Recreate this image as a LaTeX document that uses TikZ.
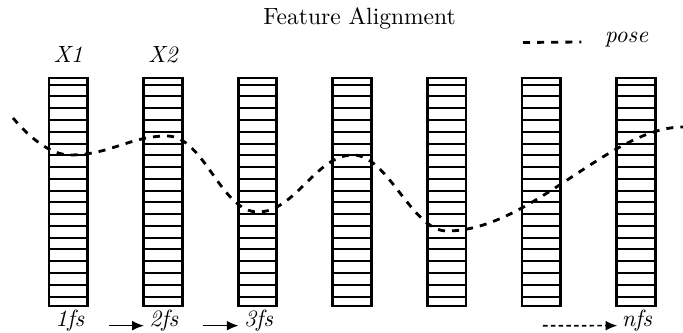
\documentclass[tikz,border=0pt]{standalone}
\usetikzlibrary{arrows.meta,calc}
\begin{document}
\begin{tikzpicture}[x=0.4255pt,y=-0.4255pt,
  featcol/.style={draw,line width=1.2pt,minimum width=16.4pt,minimum height=97pt,inner sep=0pt,outer sep=0pt},
  cell/.style={line width=0.85pt},
  lbl/.style={inner sep=0pt,anchor=base,font=\itshape},
  posecurve/.style={dashed,line width=1.2pt},
  flow/.style={line width=0.7pt,-{Latex[length=5pt,width=4.2pt]}},
]
\useasboundingbox (0,0) rectangle (683,333);

% feature columns, each split into cells
\foreach \i in {1,...,7} {
  \node[featcol] (c\i) at ({68.25+94.6*(\i-1)},192) {};
  \foreach \k in {0,...,18}
    \draw[cell] ($(c\i.north west)+(0,{6.7+11.77*\k})$) -- ($(c\i.north east)+(0,{6.7+11.77*\k})$);
}

% title and legend
\node[inner sep=0pt,anchor=base] (title) at (359.5,25) {Feature Alignment};
\node[lbl] (posetxt) at (626.5,43) {pose};
\coordinate (legstart) at (523,42.5);
\draw[posecurve] (legstart) -- ($(posetxt.base west)+(-23,-1)$);

% column labels
\node[lbl] (x1) at ($(c1.north)+(0,-15.7)$) {X1};
\node[lbl] (x2) at ($(c2.north)+(0,-15.7)$) {X2};

% frame labels
\node[lbl] (f1) at ($(c1.south)+(1.5,20.7)$) {1fs};
\node[lbl] (f2) at ($(c2.south)+(1,20.7)$) {2fs};
\node[lbl] (f3) at ($(c3.south)+(1,20.7)$) {3fs};
\node[lbl] (fn) at ($(c7.south)+(1,20.7)$) {nfs};

\draw[flow] ($(f1.base east)+(24,-1)$) -- ($(f2.base west)+(-5,-1)$);
\draw[flow] ($(f2.base east)+(24,-1)$) -- ($(f3.base west)+(-5,-1)$);
\coordinate (fdots) at (543,325.7);
\draw[flow,dash pattern=on 2pt off 1.3pt] (fdots) -- ($(fn.base west)+(-4,-1)$);

% pose curve
\draw[posecurve] (13,118) .. controls (28,136) and (50,155) .. (70,155)
  .. controls (110,155) and (130,136) .. (167,136)
  .. controls (204,136) and (221,212) .. (258,212)
  .. controls (295,212) and (316,155) .. (353,155)
  .. controls (388,155) and (412,231) .. (447,231)
  .. controls (530,231) and (610,127) .. (683,127);
\end{tikzpicture}
\end{document}
